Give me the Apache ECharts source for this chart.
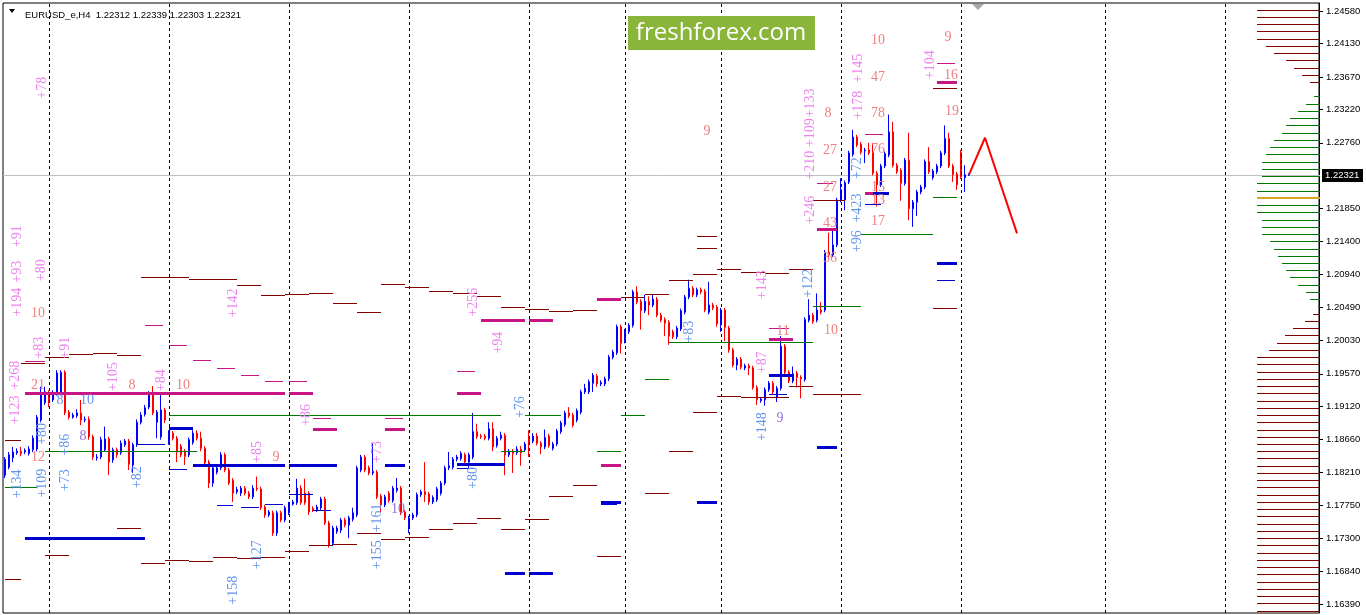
<!DOCTYPE html>
<html><head><meta charset="utf-8">
<script src="https://cdn.jsdelivr.net/npm/echarts@6/dist/echarts.min.js"></script>
<style>html,body{margin:0;padding:0;background:#fff}#c{width:1366px;height:615px}</style>
</head><body><div id="c"></div>
<script>
// ---- candles: [open, close, low, high], H4 bars ----
const ohlc = [
[1.1817,1.1839,1.1813,1.1842],[1.1828,1.1845,1.1825,1.1849],[1.1841,1.1849,1.1835,1.1856],[1.1848,1.1850,1.1845,1.1854],[1.1850,1.1847,1.1843,1.1856],
[1.1849,1.1851,1.1846,1.1854],[1.1847,1.1853,1.1844,1.1857],[1.1852,1.1868,1.1849,1.1872],[1.1853,1.1897,1.1850,1.1900],[1.1893,1.1928,1.1890,1.1939],
[1.1917,1.1932,1.1914,1.1939],[1.1930,1.1918,1.1911,1.1934],[1.1921,1.1930,1.1918,1.1934],[1.1930,1.1958,1.1927,1.1962],[1.1930,1.1959,1.1927,1.1962],
[1.1959,1.1903,1.1900,1.1962],[1.1904,1.1897,1.1894,1.1907],[1.1897,1.1900,1.1895,1.1903],[1.1899,1.1903,1.1896,1.1908],[1.1903,1.1893,1.1886,1.1921],
[1.1893,1.1894,1.1890,1.1898],[1.1894,1.1870,1.1866,1.1898],[1.1870,1.1842,1.1838,1.1873],[1.1841,1.1842,1.1837,1.1846],[1.1842,1.1866,1.1839,1.1870],
[1.1852,1.1867,1.1849,1.1884],[1.1867,1.1835,1.1817,1.1870],[1.1838,1.1852,1.1834,1.1855],[1.1852,1.1845,1.1841,1.1855],[1.1848,1.1861,1.1845,1.1865],
[1.1859,1.1864,1.1856,1.1867],[1.1864,1.1832,1.1824,1.1867],[1.1831,1.1859,1.1820,1.1862],[1.1859,1.1890,1.1856,1.1894],[1.1890,1.1900,1.1887,1.1904],
[1.1901,1.1910,1.1898,1.1914],[1.1911,1.1929,1.1908,1.1933],[1.1929,1.1903,1.1900,1.1940],[1.1890,1.1904,1.1868,1.1907],[1.1870,1.1907,1.1866,1.1930],
[1.1907,1.1893,1.1889,1.1910],[1.1863,1.1875,1.1859,1.1879],[1.1875,1.1868,1.1865,1.1878],[1.1868,1.1849,1.1835,1.1871],[1.1857,1.1845,1.1842,1.1860],
[1.1850,1.1843,1.1831,1.1853],[1.1845,1.1866,1.1842,1.1869],[1.1862,1.1875,1.1859,1.1879],[1.1875,1.1868,1.1865,1.1879],[1.1868,1.1854,1.1850,1.1877],
[1.1854,1.1834,1.1830,1.1857],[1.1835,1.1806,1.1799,1.1838],[1.1806,1.1827,1.1801,1.1830],[1.1821,1.1827,1.1818,1.1830],[1.1827,1.1845,1.1824,1.1849],
[1.1845,1.1824,1.1821,1.1848],[1.1824,1.1806,1.1803,1.1827],[1.1810,1.1792,1.1780,1.1813],[1.1794,1.1797,1.1791,1.1801],[1.1792,1.1799,1.1788,1.1802],
[1.1799,1.1792,1.1789,1.1802],[1.1792,1.1787,1.1784,1.1795],[1.1787,1.1799,1.1784,1.1803],[1.1799,1.1798,1.1795,1.1815],[1.1798,1.1772,1.1769,1.1801],
[1.1773,1.1762,1.1758,1.1776],[1.1762,1.1766,1.1759,1.1769],[1.1765,1.1737,1.1733,1.1768],[1.1737,1.1765,1.1733,1.1768],[1.1765,1.1755,1.1752,1.1768],
[1.1755,1.1772,1.1752,1.1775],[1.1765,1.1777,1.1762,1.1780],[1.1777,1.1780,1.1775,1.1783],[1.1779,1.1799,1.1776,1.1812],[1.1799,1.1779,1.1776,1.1803],
[1.1792,1.1779,1.1776,1.1812],[1.1792,1.1766,1.1762,1.1795],[1.1771,1.1769,1.1766,1.1774],[1.1769,1.1773,1.1766,1.1776],[1.1772,1.1784,1.1769,1.1787],
[1.1784,1.1751,1.1748,1.1787],[1.1751,1.1720,1.1717,1.1754],[1.1723,1.1744,1.1719,1.1747],[1.1739,1.1744,1.1736,1.1747],[1.1741,1.1755,1.1737,1.1758],
[1.1755,1.1748,1.1745,1.1758],[1.1748,1.1758,1.1730,1.1761],[1.1756,1.1765,1.1753,1.1772],[1.1762,1.1827,1.1759,1.1830],[1.1824,1.1842,1.1821,1.1845],
[1.1842,1.1824,1.1821,1.1845],[1.1827,1.1820,1.1817,1.1830],[1.1820,1.1822,1.1817,1.1861],[1.1821,1.1787,1.1784,1.1824],[1.1788,1.1776,1.1766,1.1791],
[1.1776,1.1787,1.1773,1.1790],[1.1792,1.1782,1.1779,1.1795],[1.1782,1.1799,1.1779,1.1802],[1.1796,1.1799,1.1793,1.1813],[1.1799,1.1765,1.1762,1.1802],
[1.1766,1.1758,1.1755,1.1769],[1.1744,1.1758,1.1737,1.1761],[1.1758,1.1762,1.1755,1.1765],[1.1762,1.1790,1.1759,1.1793],[1.1790,1.1794,1.1787,1.1797],
[1.1794,1.1790,1.1780,1.1835],[1.1791,1.1780,1.1776,1.1794],[1.1780,1.1786,1.1777,1.1789],[1.1783,1.1798,1.1780,1.1801],[1.1792,1.1806,1.1789,1.1809],
[1.1806,1.1827,1.1803,1.1830],[1.1827,1.1830,1.1824,1.1849],[1.1828,1.1839,1.1825,1.1842],[1.1839,1.1842,1.1836,1.1845],[1.1840,1.1847,1.1837,1.1850],
[1.1845,1.1835,1.1832,1.1848],[1.1835,1.1845,1.1827,1.1848],[1.1842,1.1877,1.1839,1.1903],[1.1877,1.1870,1.1867,1.1888],[1.1871,1.1870,1.1867,1.1874],
[1.1871,1.1868,1.1865,1.1874],[1.1868,1.1881,1.1865,1.1890],[1.1881,1.1856,1.1850,1.1890],[1.1858,1.1868,1.1855,1.1871],[1.1868,1.1872,1.1865,1.1877],
[1.1872,1.1845,1.1817,1.1875],[1.1845,1.1850,1.1842,1.1853],[1.1850,1.1847,1.1820,1.1853],[1.1848,1.1853,1.1845,1.1857],[1.1853,1.1848,1.1830,1.1857],
[1.1852,1.1860,1.1849,1.1863],[1.1867,1.1863,1.1842,1.1879],[1.1864,1.1871,1.1861,1.1875],[1.1871,1.1861,1.1858,1.1875],[1.1861,1.1856,1.1846,1.1864],
[1.1856,1.1869,1.1853,1.1880],[1.1871,1.1858,1.1855,1.1874],[1.1854,1.1860,1.1851,1.1863],[1.1860,1.1878,1.1857,1.1881],[1.1877,1.1889,1.1874,1.1892],
[1.1887,1.1903,1.1884,1.1906],[1.1903,1.1899,1.1896,1.1911],[1.1900,1.1886,1.1883,1.1903],[1.1893,1.1906,1.1890,1.1909],[1.1904,1.1932,1.1901,1.1935],
[1.1932,1.1937,1.1929,1.1943],[1.1932,1.1946,1.1929,1.1949],[1.1944,1.1955,1.1932,1.1958],[1.1954,1.1943,1.1939,1.1957],[1.1943,1.1945,1.1940,1.1948],
[1.1943,1.1950,1.1940,1.1953],[1.1950,1.1980,1.1947,1.1983],[1.1980,1.1987,1.1977,1.1990],[1.1986,1.2022,1.1983,1.2025],[1.2022,1.1999,1.1985,1.2025],
[1.2002,1.2016,1.1999,1.2019],[1.2015,1.2024,1.2012,1.2027],[1.2024,1.2070,1.2021,1.2073],[1.2070,1.2056,1.2053,1.2078],[1.2057,1.2044,1.2018,1.2060],
[1.2044,1.2057,1.2041,1.2066],[1.2057,1.2052,1.2038,1.2064],[1.2052,1.2060,1.2049,1.2066],[1.2060,1.2038,1.2035,1.2063],[1.2038,1.2031,1.2028,1.2041],
[1.2032,1.2027,1.2009,1.2035],[1.2028,1.2009,1.1997,1.2031],[1.2015,1.2008,1.2005,1.2018],[1.2008,1.2020,1.2005,1.2023],[1.2019,1.2044,1.2016,1.2047],
[1.2042,1.2063,1.2039,1.2066],[1.2063,1.2075,1.2060,1.2087],[1.2075,1.2066,1.2063,1.2078],[1.2066,1.2073,1.2063,1.2076],[1.2073,1.2070,1.2067,1.2076],
[1.2071,1.2045,1.2042,1.2074],[1.2042,1.2052,1.2039,1.2084],[1.2052,1.2048,1.2045,1.2055],[1.2049,1.2026,1.2022,1.2052],[1.2027,1.2045,1.2015,1.2048],
[1.2045,1.2021,1.2002,1.2048],[1.2020,1.1990,1.1986,1.2023],[1.1990,1.1969,1.1966,1.1993],[1.1969,1.1977,1.1962,1.1980],[1.1977,1.1966,1.1963,1.1980],
[1.1965,1.1968,1.1962,1.1971],[1.1968,1.1965,1.1955,1.1971],[1.1965,1.1938,1.1935,1.1968],[1.1938,1.1921,1.1914,1.1941],[1.1920,1.1922,1.1917,1.1925],
[1.1921,1.1935,1.1913,1.1938],[1.1935,1.1944,1.1932,1.1947],[1.1944,1.1932,1.1929,1.1947],[1.1925,1.1937,1.1918,1.1940],[1.1937,1.1995,1.1934,1.2009],
[1.1995,1.1959,1.1956,1.1998],[1.1959,1.1947,1.1944,1.1962],[1.1947,1.1957,1.1944,1.1967],[1.1958,1.1952,1.1938,1.1961],[1.1952,1.1950,1.1923,1.1955],
[1.1949,1.2032,1.1946,1.2035],[1.2031,1.2038,1.2028,1.2060],[1.2038,1.2029,1.2026,1.2041],[1.2031,1.2045,1.2028,1.2068],[1.2045,1.2042,1.2039,1.2056],
[1.2045,1.2125,1.2042,1.2128],[1.2125,1.2121,1.2118,1.2152],[1.2121,1.2135,1.2118,1.2155],[1.2135,1.2197,1.2132,1.2200],[1.2197,1.2211,1.2194,1.2227],
[1.2197,1.2221,1.2183,1.2224],[1.2222,1.2262,1.2219,1.2265],[1.2260,1.2284,1.2257,1.2294],[1.2284,1.2273,1.2270,1.2287],[1.2274,1.2263,1.2260,1.2277],
[1.2265,1.2266,1.2248,1.2269],[1.2266,1.2262,1.2259,1.2276],[1.2263,1.2234,1.2231,1.2276],[1.2234,1.2218,1.2188,1.2237],[1.2218,1.2244,1.2215,1.2247],
[1.2244,1.2261,1.2241,1.2264],[1.2259,1.2291,1.2256,1.2315],[1.2291,1.2245,1.2242,1.2305],[1.2245,1.2236,1.2233,1.2248],[1.2238,1.2220,1.2196,1.2241],
[1.2220,1.2252,1.2217,1.2255],[1.2252,1.2185,1.2169,1.2290],[1.2185,1.2194,1.2160,1.2197],[1.2194,1.2208,1.2175,1.2211],[1.2208,1.2215,1.2205,1.2218],
[1.2215,1.2250,1.2212,1.2253],[1.2250,1.2236,1.2233,1.2270],[1.2228,1.2237,1.2225,1.2240],[1.2236,1.2244,1.2233,1.2247],[1.2244,1.2262,1.2241,1.2265],
[1.2262,1.2282,1.2259,1.2300],[1.2282,1.2244,1.2241,1.2290],[1.2244,1.2232,1.2222,1.2247],[1.2233,1.2218,1.2211,1.2236],[1.2263,1.2229,1.2226,1.2266],
[1.2228,1.2232,1.2208,1.2245],[1.22312,1.22321,1.22303,1.22339]
];
const totalBars = 329;
const lastPrice = 1.22321;
const headerText = 'EURUSD_e,H4  1.22312 1.22339 1.22303 1.22321';
const priceTicks = [1.1639,1.1684,1.1730,1.1775,1.1821,1.1866,1.1912,1.1957,1.2003,1.2049,1.2094,1.2140,1.2185,1.2276,1.2322,1.2367,1.2413,1.2458];
const priceMin = 1.16266, priceMax = 1.24691;
const separators = [11,41,71,101,131,155,179,209,239,275,305];
const forecast = [[241,1.22321],[245,1.2283],[253,1.2151]];

// ---- horizontal level segments: [fromBar, toBar, price] ----
const segDarkRed = [
[0,4,1.1866],[4,10,1.1972],[10,16,1.1980],[16,22,1.1984],[22,28,1.1986],[28,34,1.1983],[34,46,1.2091],[46,58,1.2088],[58,64,1.2080],[64,70,1.2066],
[70,76,1.2067],[76,82,1.2069],[82,88,1.2055],[88,94,1.2042],[94,100,1.2081],[100,106,1.2077],[106,112,1.2071],[112,118,1.2069],[118,124,1.2064],[124,130,1.2049],
[130,136,1.2046],[136,142,1.2044],[142,148,1.2045],[148,154,1.2061],[154,160,1.2063],[160,166,1.2067],[166,172,1.2087],[172,178,1.2095],[178,184,1.2102],[184,190,1.2098],
[190,196,1.2096],[196,202,1.2102],[202,210,1.2197],[232,238,1.2352],[232,238,1.2048],[173,178,1.2147],[173,178,1.2131],
[0,4,1.1674],[10,16,1.1707],[28,34,1.1744],[34,40,1.1696],[40,46,1.1700],[46,52,1.1698],[52,58,1.1704],[58,64,1.1703],[64,70,1.1704],[70,76,1.1712],
[76,82,1.1721],[82,88,1.1722],[88,94,1.1737],[94,100,1.1729],[100,106,1.1732],[106,112,1.1743],[112,118,1.1751],[118,124,1.1758],[124,130,1.1743],[130,136,1.1756],
[136,142,1.1788],[142,148,1.1803],[148,154,1.1705],[160,166,1.1792],[166,172,1.1850],[172,178,1.1904],[178,184,1.1926],[184,196,1.1925],[196,202,1.1940],[202,214,1.1929]
];
const segMagenta = [[5,10,1.1975],[35,39.5,1.2024],[41,45.5,1.1997],[47,51.5,1.1976],[53,57.5,1.1965],[59,63.5,1.1955],[65,69.5,1.1947],[71,75.5,1.1947],[77,81.5,1.1896],[95,99.5,1.1896],[113,117.5,1.1961],[191,196,1.2020],[203,207,1.2221],[215,219.5,1.2288],[233,237.5,1.2386]];
const segMagentaThick = [[5,70,1.1930],[71,77,1.1930],[77,83,1.1881],[95,100,1.1881],[113,119,1.1930],[119,130,1.2031],[131,137,1.2031],[148,154,1.2060],[149,154,1.1831],[191,197,1.2005],[203,208,1.2157],[215,221,1.2207],[233,238,1.2360]];
const segBlueThick = [[5,35,1.1730],[41,47,1.1882],[47,70,1.1831],[71,83,1.1831],[95,100,1.1831],[113,125,1.1832],[125,130,1.1682],[131,137,1.1682],[149,154,1.1780],[173,178,1.1780],[191,197,1.1955],[203,208,1.1856],[217,221,1.2207],[233,238,1.2110]];
const segBlue = [[33,40,1.1860],[41,45.5,1.1826],[53,57,1.1776],[59,63.5,1.1773],[65,69.5,1.1777],[71,77,1.1791],[77,81.5,1.1769],[113,117.5,1.1827],[149,153,1.1777],[191,195.5,1.1929],[215,219,1.2192],[233,237.5,1.2087]];
const segGreen = [[0,8,1.1801],[10,48,1.1850],[41,124,1.1900],[124,130,1.1850],[130,139,1.1900],[148,154,1.1850],[154,160,1.1900],[160,166,1.1950],[166,202,1.2001],[202,214,1.2051],[214,232,1.2150],[232,238,1.2201]];

// ---- annotations: [bar, price, text] ----
const textViolet = [
[9.25,1.2352,'+78'],[3,1.2147,'+91'],[3,1.2098,'+93'],[3,1.2056,'+194'],[9,1.2100,'+80'],[8.5,1.1993,'+83'],[15,1.1993,'+91'],[2.5,1.1955,'+268'],[2.5,1.1907,'+123'],
[27,1.1953,'+105'],[39,1.1948,'+84'],[57,1.2055,'+142'],[63,1.1849,'+85'],[75.25,1.1900,'+86'],[93,1.1849,'+73'],[117,1.2056,'+256'],[123.25,1.2000,'+94'],
[189.25,1.2080,'+143'],[189.25,1.1973,'+87'],[201.25,1.2331,'+133'],[201.25,1.2290,'+109'],[201.25,1.2245,'+210'],[201.25,1.2183,'+246'],[213.25,1.2379,'+145'],[213.25,1.2328,'+178'],[231.25,1.2384,'+104']
];
const textBlue = [
[3,1.1805,'+134'],[9.25,1.1806,'+109'],[9.25,1.1874,'+80'],[15,1.1859,'+86'],[15,1.1810,'+73'],[33,1.1814,'+82'],[63,1.1707,'+127'],[57,1.1658,'+158'],[93,1.1758,'+161'],
[93,1.1707,'+155'],[117,1.1813,'+80'],[128.75,1.1911,'+76'],[171,1.2015,'+83'],[189.25,1.1884,'+148'],[200.75,1.2082,'+122'],[213,1.2241,'+72'],[213,1.2186,'+423'],[213,1.2140,'+96']
];
const textRose = [
[8.25,1.2041,'10'],[8.25,1.1941,'21'],[8.25,1.1842,'12'],[31.75,1.1941,'8'],[44.5,1.1941,'10'],[67.75,1.1842,'9'],[175.5,1.2292,'9'],[194.5,1.2015,'11'],[206.5,1.2017,'10'],
[205.75,1.2317,'8'],[206.25,1.2266,'27'],[206.25,1.2215,'27'],[206.25,1.2165,'43'],[206.25,1.2117,'36'],[218.25,1.2418,'10'],[218.25,1.2367,'47'],[218.25,1.2317,'78'],
[218.25,1.2267,'76'],[218.25,1.2215,'15'],[218.25,1.2197,'13'],[218.25,1.2167,'17'],[235.75,1.2422,'9'],[236.5,1.2369,'16'],[236.75,1.2320,'19']
];
const textBlueH = [[20.5,1.1921,'10'],[13.75,1.1921,'8']];
const textPurple = [[19.5,1.1870,'8'],[193.75,1.1896,'9'],[98.25,1.1770,'10']];

// ---- volume profile: [price, length, kind(0 dark red,1 green,2 orange)] ----
const profile = [
[1.2460,63,0],[1.2450,63,0],[1.2440,63,0],[1.2430,63,0],[1.2420,63,0],[1.2410,54,0],[1.2400,46,0],[1.2390,34,0],[1.2380,26,0],[1.2370,18,0],[1.2360,10,0],
[1.2350,2,1],[1.2340,6,1],[1.2330,14,1],[1.2320,22,1],[1.2310,30,1],[1.2300,34,1],[1.2290,38,1],[1.2280,46,1],[1.2270,50,1],[1.2260,54,1],[1.2250,58,1],
[1.2240,58,1],[1.2230,58,1],[1.2220,63,1],[1.2210,63,1],[1.2200,63,2],[1.2190,63,1],[1.2180,63,1],[1.2170,58,1],[1.2160,58,1],[1.2150,58,1],[1.2140,50,1],
[1.2130,46,1],[1.2120,42,1],[1.2110,38,1],[1.2100,34,1],[1.2090,30,1],[1.2080,22,1],[1.2070,14,1],[1.2060,10,1],[1.2050,2,1],
[1.2040,7,0],[1.2030,15,0],[1.2020,27,0],[1.2010,35,0],[1.2000,43,0],[1.1990,51,0],[1.1980,63,0],[1.1970,63,0],[1.1960,63,0],[1.1950,63,0],[1.1940,63,0],
[1.1930,63,0],[1.1920,63,0],[1.1910,63,0],[1.1900,63,0],[1.1890,63,0],[1.1880,63,0],[1.1870,63,0],[1.1860,63,0],[1.1850,63,0],[1.1840,63,0],[1.1830,63,0],
[1.1820,63,0],[1.1810,63,0],[1.1800,63,0],[1.1790,63,0],[1.1780,63,0],[1.1770,63,0],[1.1760,63,0],[1.1750,63,0],[1.1740,63,0],[1.1730,63,0],[1.1720,63,0],
[1.1710,63,0],[1.1700,63,0],[1.1690,63,0],[1.1680,63,0],[1.1670,63,0],[1.1660,63,0],[1.1650,63,0],[1.1640,63,0],[1.1630,63,0]
];

// ---------------------------------------------------------------
const chart = echarts.init(document.getElementById('c'), null, {renderer:'canvas'});
const cats = []; for (let i = 0; i < totalBars; i++) cats.push(String(i));
const uiFont = '"Liberation Sans", Arial, sans-serif';

function xPix(api, v, price){
  const b = Math.floor(v);
  const bw = api.size([1, 0])[0];
  return api.coord([b, price])[0] + (v - b) * bw;
}
function segSeries(arr, color, width){
  return {
    type:'custom', silent:true, xAxisIndex:0, yAxisIndex:0, z:5,
    data: arr.map(d => [d[0], d[2], d[1]]),
    renderItem: (params, api) => {
      const pr = api.value(1);
      const x1 = xPix(api, api.value(0), pr), x2 = xPix(api, api.value(2), pr);
      const y = api.coord([0, pr])[1];
      const yy = width % 2 ? Math.round(y) + 0.5 : Math.round(y);
      return {type:'line', shape:{x1:x1, y1:yy, x2:x2, y2:yy}, style:{stroke:color, lineWidth:width}};
    }
  };
}
function textSeries(arr, color, rotate, size){
  return {
    type:'custom', silent:true, xAxisIndex:0, yAxisIndex:0, z:6,
    data: arr.map(d => [d[0], d[1]]),
    renderItem: (params, api) => {
      const pr = api.value(1);
      const x = xPix(api, api.value(0), pr);
      const y = api.coord([0, pr])[1];
      return {type:'text', x:x, y:y, rotation: rotate ? Math.PI/2 : 0,
        style:{text: arr[params.dataIndex][2], fill: color, font: size + 'px "Liberation Serif", serif',
               align:'center', verticalAlign:'middle', textAlign:'center', textVerticalAlign:'middle'}};
    }
  };
}
const profileColors = ['#800000', '#007800', '#DAA520'];

const option = {
  animation:false,
  backgroundColor:'#ffffff',
  title:{text: headerText, left:20, top:5, textStyle:{fontSize:9.5, fontWeight:'normal', color:'#000', fontFamily:uiFont}},
  grid:[
    {left:3, right:47, top:3, bottom:2, show:true, borderColor:'#000', borderWidth:1, backgroundColor:'#fff'},
    {left:1256, right:46, top:3, bottom:2, show:false}
  ],
  xAxis:[
    {type:'category', data:cats, gridIndex:0, boundaryGap:true, axisLine:{show:false}, axisTick:{show:false}, axisLabel:{show:false}, splitLine:{show:false}},
    {type:'value', gridIndex:1, min:0, max:64, inverse:true, show:false}
  ],
  yAxis:[
    {type:'value', gridIndex:0, position:'right', min:priceMin, max:priceMax,
     axisLine:{show:true, lineStyle:{color:'#000', width:1}},
     axisTick:{show:true, length:4, inside:false, customValues: priceTicks, lineStyle:{color:'#000'}},
     axisLabel:{show:true, customValues: priceTicks, margin:7, color:'#000', fontSize:9.5, fontFamily:uiFont, formatter: v => Number(v).toFixed(5)},
     splitLine:{show:false}},
    {type:'value', gridIndex:1, min:priceMin, max:priceMax, show:false}
  ],
  graphic:[
    {type:'polygon', shape:{points:[[9,9],[15,9],[12,13]]}, style:{fill:'#000'}, z:100},
    {type:'rect', shape:{x:628, y:16, width:187, height:34}, style:{fill:'#8AB53B'}, z:100},
    {type:'text', x:721, y:33, style:{text:'freshforex.com', fill:'#fff', font:'24px "Open Sans", sans-serif', align:'center', verticalAlign:'middle', textAlign:'center', textVerticalAlign:'middle'}, z:101},
    {type:'polygon', shape:{points:[[972,4],[984,4],[978,10]]}, style:{fill:'#A8A8A8'}, z:100}
  ],
  series:[
    {
      type:'custom', silent:true, xAxisIndex:0, yAxisIndex:0, z:2,
      data: [[0, lastPrice]],
      renderItem: (params, api) => {
        const cs = params.coordSys;
        const y = Math.round(api.coord([0, api.value(1)])[1]) + 0.5;
        const right = cs.x + cs.width;
        return {type:'group', children:[
          {type:'line', shape:{x1:cs.x, y1:y, x2:right + 1, y2:y}, style:{stroke:'#C0C0C0', lineWidth:1}},
          {type:'rect', shape:{x:right + 3, y:Math.round(y) - 7, width:41, height:13}, style:{fill:'#000'}, z2:10},
          {type:'text', x:right + 6, y:Math.round(y) - 0.5, style:{text: lastPrice.toFixed(5), fill:'#fff', font:'9.5px ' + uiFont, align:'left', verticalAlign:'middle', textAlign:'left', textVerticalAlign:'middle'}, z2:11}
        ]};
      }
    },
    {
      type:'candlestick', xAxisIndex:0, yAxisIndex:0, data: ohlc, barWidth:2, z:3,
      itemStyle:{color:'#0000FF', color0:'#FF0000', borderColor:'#0000FF', borderColor0:'#FF0000', borderWidth:1},
      markLine:{
        silent:true, symbol:['none','none'], animation:false,
        data: separators.map(i => ({xAxis: i, lineStyle:{color:'#000', type:[3,3], width:1}, label:{show:false}}))
      }
    },
    segSeries(segGreen, '#007800', 1),
    segSeries(segDarkRed, '#800000', 1),
    segSeries(segMagenta, '#C71585', 1),
    segSeries(segMagentaThick, '#C71585', 3),
    segSeries(segBlue, '#0000CD', 1),
    segSeries(segBlueThick, '#0000CD', 3),
    textSeries(textViolet, '#EE82EE', true, 14),
    textSeries(textBlue, '#6495ED', true, 14),
    textSeries(textRose, '#F08080', false, 14),
    textSeries(textBlueH, '#6495ED', false, 14),
    textSeries(textPurple, '#9370DB', false, 14),
    {type:'line', xAxisIndex:0, yAxisIndex:0, data: forecast, symbol:'none', z:7, lineStyle:{color:'#FF0000', width:2}},
    {
      type:'custom', silent:true, xAxisIndex:1, yAxisIndex:1, z:4,
      data: profile.map(d => [d[1], d[0], d[2]]),
      renderItem: (params, api) => {
        const pr = api.value(1), k = api.value(2);
        const p0 = api.coord([0, pr]), p1 = api.coord([api.value(0), pr]);
        const w = k === 2 ? 2 : 1;
        const yy = w % 2 ? Math.round(p0[1]) + 0.5 : Math.round(p0[1]);
        return {type:'line', shape:{x1:p0[0], y1:yy, x2:p1[0], y2:yy}, style:{stroke: profileColors[k], lineWidth:w}};
      }
    }
  ]
};
chart.setOption(option);
</script>
</body></html>
